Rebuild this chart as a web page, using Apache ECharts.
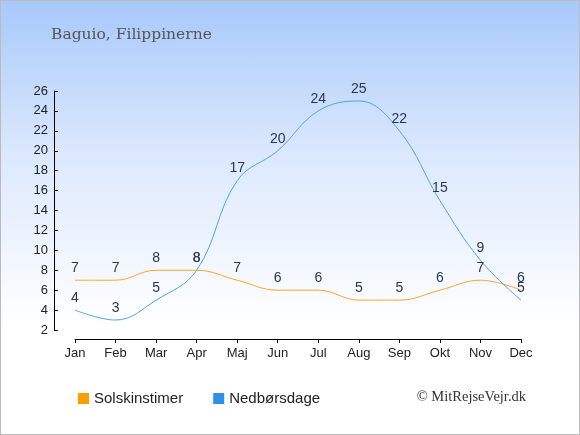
<!DOCTYPE html>
<html>
<head>
<meta charset="utf-8">
<script src="https://cdn.jsdelivr.net/npm/echarts@6/dist/echarts.min.js"></script>
<style>
  html, body { margin: 0; padding: 0; }
  #chart {
    width: 578px; height: 433px;
    border: 1px solid #bbb;
    background: linear-gradient(to bottom, #a8c9fb 0%, #dbe8fd 35%, #ffffff 75%, #ffffff 100%);
  }
</style>
</head>
<body>
<div id="chart"></div>
<script>
var months = ['Jan','Feb','Mar','Apr','Maj','Jun','Jul','Aug','Sep','Okt','Nov','Dec'];
var solskin = [7, 7, 8, 8, 7, 6, 6, 5, 5, 6, 7, 6];
var nedbor = [4, 3, 5, 8, 17, 20, 24, 25, 22, 15, 9, 5];

var chart = echarts.init(document.getElementById('chart'));

var labelStyle = {
	show: true,
	position: 'top',
	distance: 5,
	color: '#2b3550',
	fontFamily: 'Liberation Sans',
	fontSize: 14
};

var option = {
	animation: false,
	title: {
		text: 'Baguio, Filippinerne',
		left: 45,
		top: 21,
		textStyle: {
			fontFamily: 'DejaVu Serif',
			fontWeight: 'normal',
			fontSize: 15.5,
			color: '#555'
		}
	},
	legend: {
		bottom: 23,
		left: 72,
		itemWidth: 11,
		itemHeight: 11,
		itemGap: 30,
		icon: 'rect',
		textStyle: { fontFamily: 'Liberation Sans', fontSize: 15, color: '#222' },
		data: ['Solskinstimer', 'Nedbørsdage']
	},
	graphic: [{
		type: 'text',
		right: 53,
		bottom: 29,
		style: {
			text: '© MitRejseVejr.dk',
			font: '14.5px "Liberation Serif"',
			fill: '#333'
		}
	}],
	grid: { left: 74, right: 58, top: 90, bottom: 104 },
	xAxis: {
		type: 'category',
		data: months,
		boundaryGap: false,
		offset: 9,
		axisLine: { lineStyle: { color: '#000' } },
		axisTick: { length: 4, lineStyle: { color: '#000' } },
		axisLabel: { color: '#222', fontFamily: 'Liberation Sans', fontSize: 13, margin: 8 }
	},
	yAxis: {
		type: 'value',
		min: 2,
		max: 26,
		interval: 2,
		offset: 21,
		axisLine: { show: true, lineStyle: { color: '#000' } },
		axisTick: { show: true, inside: true, length: 4, lineStyle: { color: '#000' } },
		splitLine: { show: false },
		axisLabel: { color: '#222', fontFamily: 'Liberation Sans', fontSize: 13, margin: 6 }
	},
	series: [
		{
			name: 'Solskinstimer',
			type: 'line',
			smooth: 0.4,
			data: solskin,
			symbol: 'circle',
			symbolSize: 0.1,
			itemStyle: { color: '#ff9c00' },
			lineStyle: { color: '#f9a52a', width: 1 },
			label: labelStyle
		},
		{
			name: 'Nedbørsdage',
			type: 'line',
			smooth: 0.4,
			data: nedbor,
			symbol: 'circle',
			symbolSize: 0.1,
			itemStyle: { color: '#2e8fe6' },
			lineStyle: { color: '#4da3ee', width: 1 },
			label: labelStyle
		}
	]
};

chart.setOption(option);
</script>
</body>
</html>
